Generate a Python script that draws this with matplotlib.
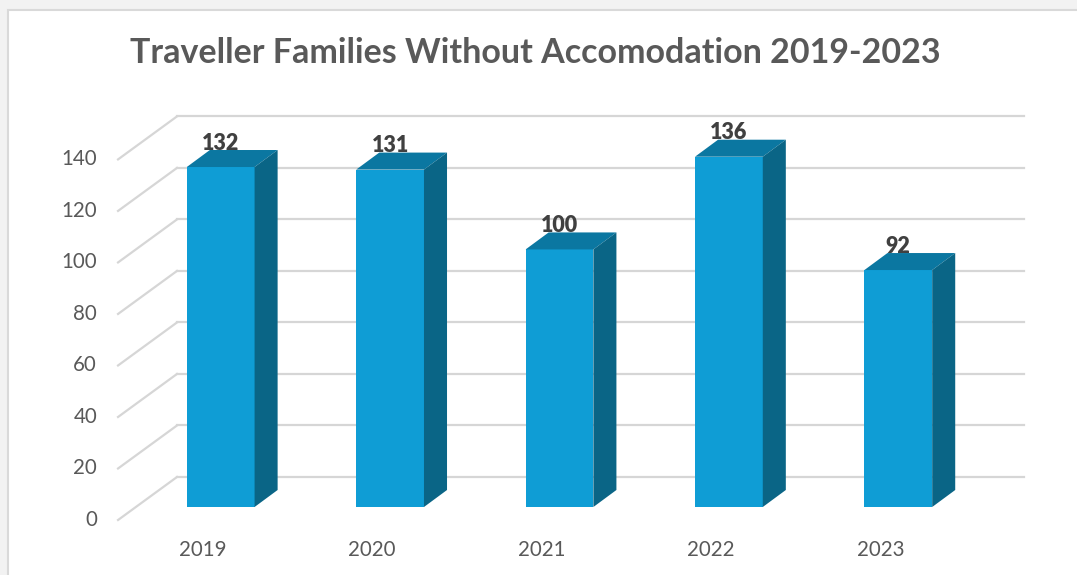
import numpy as np
import matplotlib
matplotlib.use('Agg')
import matplotlib.pyplot as plt
from matplotlib.patches import Polygon, Rectangle

plt.rcParams['font.family'] = ['Lato', 'DejaVu Sans']

# data
years = ['2019', '2020', '2021', '2022', '2023']
families = [132, 131, 100, 136, 92]
yticks = [0, 20, 40, 60, 80, 100, 120, 140]

# colours
front_col = '#0f9dd5'
top_col = '#0b77a1'
side_col = '#0a6586'
grid_col = '#d6d6d6'
text_col = '#595959'

# fake 3d geometry, in data units (front plane of bars is x=index, y=value)
bar_w = 0.40
bar_dx, bar_dy = 0.136, 6.6      # depth of a bar
wall_dx, wall_dy = 0.242, 11.65  # bar front plane -> back wall
flr_dx, flr_dy = -0.106, -5.05   # bar front plane -> front edge of floor

fig = plt.figure(figsize=(10.77, 5.75), dpi=100)
fig.patch.set_facecolor('#f2f2f2')

# white chart area with thin border
fig.patches.append(Rectangle((8/1077, -0.1), 1.2, (575-10)/575 + 0.1,
                             transform=fig.transFigure, facecolor='white',
                             edgecolor='#d9d9d9', lw=1.5, zorder=-5))

ax = fig.add_axes([136/1077, 68/575, 847/1077, 360.6/575])
ax.set_xlim(-0.5, 4.5)
ax.set_ylim(0, 140)
ax.axis('off')

# back wall gridlines + left wall diagonals
for v in yticks:
    ax.plot([-0.5 + wall_dx, 4.5 + wall_dx], [v + wall_dy, v + wall_dy],
            color=grid_col, lw=1.6, clip_on=False, zorder=1)
    ax.plot([-0.5 + flr_dx, -0.5 + wall_dx], [v + flr_dy, v + wall_dy],
            color=grid_col, lw=1.6, clip_on=False, zorder=1)
    ax.text(-0.5 + flr_dx - 0.124, v + flr_dy, str(v), ha='right', va='center',
            fontsize=14.8, color=text_col, clip_on=False)

# bars
x = np.arange(len(years))
ax.bar(x, families, width=bar_w, color=front_col, zorder=3, clip_on=False)
for xi, v in zip(x, families):
    l, r = xi - bar_w/2, xi + bar_w/2
    top = Polygon([(l, v), (r, v), (r + bar_dx, v + bar_dy), (l + bar_dx, v + bar_dy)],
                  closed=True, facecolor=top_col, edgecolor='none', zorder=3, clip_on=False)
    side = Polygon([(r, 0), (r + bar_dx, bar_dy), (r + bar_dx, v + bar_dy), (r, v)],
                   closed=True, facecolor=side_col, edgecolor='none', zorder=3, clip_on=False)
    ax.add_patch(top)
    ax.add_patch(side)
    ax.text(xi, v + bar_dy + 0.1, str(v), ha='center', va='baseline',
            fontsize=15.5, fontweight='heavy', color='#404040', zorder=4, clip_on=False)

# category labels on the front edge of the floor
for xi, yr in zip(x, years):
    ax.text(xi + flr_dx, flr_dy - 11.5, yr, ha='center', va='center',
            fontsize=14.8, color=text_col, clip_on=False)

fig.text(535/1077, 1 - 53/575, 'Traveller Families Without Accomodation 2019-2023',
         ha='center', va='center', fontsize=24.5, fontweight='bold', color=text_col)

fig.savefig('out.png', dpi=100, facecolor=fig.get_facecolor())
